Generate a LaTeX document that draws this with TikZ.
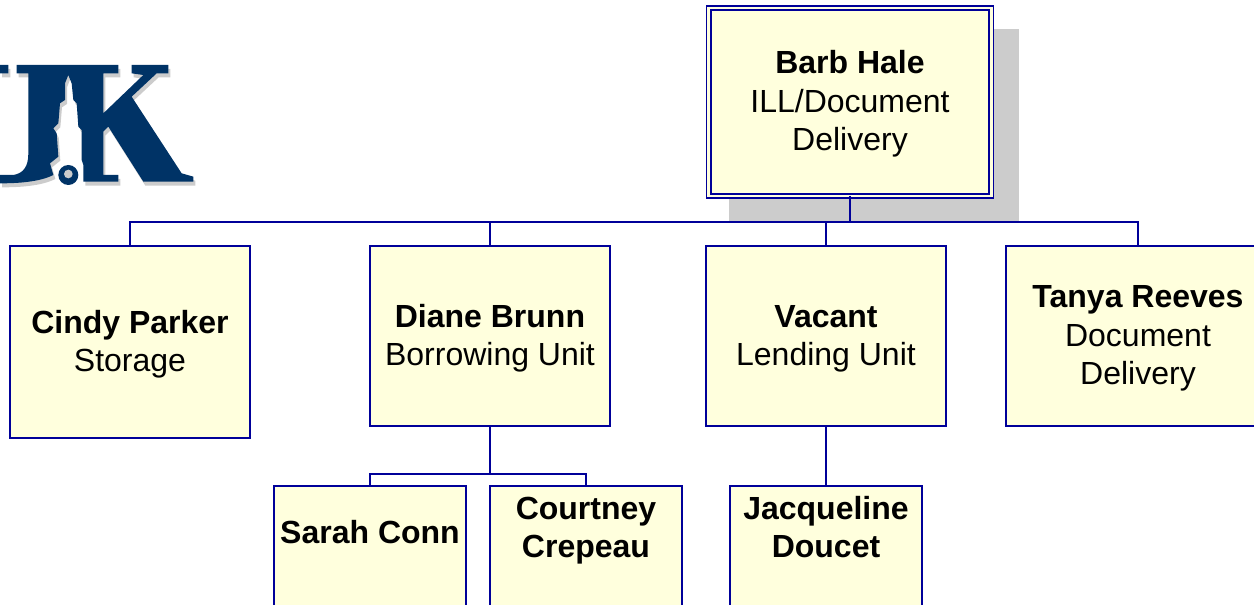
\documentclass[tikz,border=0pt]{standalone}
\usepackage{fontspec}
\setmainfont{Liberation Sans}
\definecolor{boxfill}{HTML}{FFFFDD}
\definecolor{boxline}{HTML}{000099}
\definecolor{shadowgray}{HTML}{CCCCCC}
\definecolor{logoblue}{HTML}{003366}
\newcommand{\personname}[1]{\rule{0pt}{20.5pt}\textbf{#1}}
\newcommand{\logopath}{(50,45) -- (355,45) -- (355,70) -- (310,70) -- (310,190) -- (430,75) -- (395,70) -- (395,45) -- (505,45) -- (505,70) -- (470,70) -- (395,140) -- (545,370) -- (580,380) -- (580,395) -- (430,395) -- (325,230) -- (310,245) -- (310,375) -- (355,375) -- (355,395) -- (250,395) -- (250,345) -- (245,330) -- (245,240) -- (235,230) -- (230,160) -- (220,150) -- (215,100) -- (205,75) -- (195,100) -- (195,150) -- (180,160) -- (175,220) -- (160,235) -- (170,250) -- (175,320) -- (150,340) -- (160,375) .. controls (120,395) and (60,400) .. (0,400) -- (0,375) -- (40,375) .. controls (70,370) and (85,350) .. (85,310) -- (85,70) -- (50,70) -- cycle (0,45) -- (25,45) -- (25,70) -- (0,70) -- cycle}
\tikzset{
	personbox/.style={draw=boxline,fill=boxfill,line width=1.25pt,outer sep=0pt,inner sep=0pt,
		align=center,minimum width=180pt,font=\fontsize{24}{28.9}\selectfont},
	headbox/.style={personbox,line width=1.25pt,double=boxfill,double distance=1.9pt,minimum width=212pt,minimum height=141pt},
	helperbox/.style={personbox,minimum width=144pt,minimum height=97.5pt},
	orgline/.style={draw=boxline,line width=1.25pt}
}
\begin{document}
\begin{tikzpicture}[x=.75pt,y=-.75pt]
	\clip (0,0) rectangle (1254,605);

	% logo
	\begin{scope}[x=.25pt,y=-.25pt,yshift=-37.5pt]
		\fill[shadowgray,xshift=1.5pt,yshift=-3pt] \logopath;
		\fill[logoblue] \logopath;
		\fill[logoblue] (205,375) circle (30);
		\fill[shadowgray] (205,372) circle (13);
	\end{scope}

	% shadow behind the top box
	\fill[shadowgray] (729,29) rectangle (1019,221);

	\node[headbox] (barb) at (850,102) {\personname{Barb Hale}\\ILL/Document\\Delivery};
	\node[personbox,minimum height=144pt] (cindy) at (130,342) {\personname{Cindy Parker}\\Storage};
	\node[personbox,minimum height=135pt] (diane) at (490,336) {\personname{Diane Brunn}\\Borrowing Unit};
	\node[personbox,minimum height=135pt] (vacant) at (826,336) {\personname{Vacant}\\Lending Unit};
	\node[personbox,minimum width=198pt,minimum height=135pt] (tanya) at (1138,336) {\personname{Tanya Reeves}\\Document\\Delivery};
	\node[helperbox] (sarah) at (370,551) {\personname{Sarah Conn}\\[3pt]~};
	\node[helperbox] (courtney) at (586,551) {\personname{Courtney}\\\textbf{Crepeau}\\[10.5pt]~};
	\node[helperbox] (jacqueline) at (826,551) {\personname{Jacqueline}\\\textbf{Doucet}\\[10.5pt]~};

	\coordinate (bus) at (850,222);
	\coordinate (split) at (490,474);

	\draw[orgline,line width=2pt] (barb.south) -- (bus);
	\draw[orgline] (cindy.north) |- (bus);
	\draw[orgline] (tanya.north) |- (bus);
	\draw[orgline] (diane.north) |- (bus);
	\draw[orgline] (vacant.north) |- (bus);

	\draw[orgline] (diane.south) -- (split);
	\draw[orgline] (sarah.north) |- (split);
	\draw[orgline] (courtney.north) |- (split);
	\draw[orgline] (vacant.south) -- (jacqueline.north);

\end{tikzpicture}
\end{document}
